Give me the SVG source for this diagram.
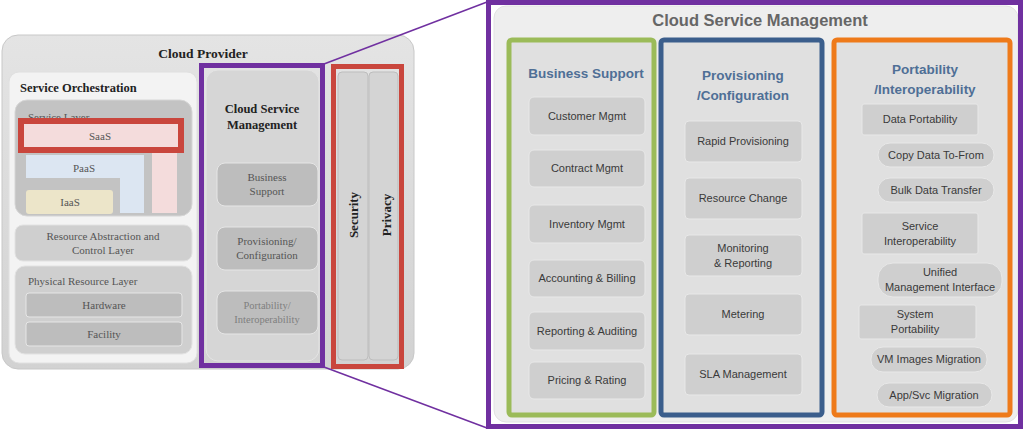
<svg xmlns="http://www.w3.org/2000/svg" width="1025" height="431" viewBox="0 0 1025 431">
<defs>
<style>
.serif{font-family:"Liberation Serif","DejaVu Serif",serif}
.sans{font-family:"Liberation Sans","Open Sans",Arial,sans-serif}
.lt{font-size:11px;fill:#555;text-anchor:middle}
.ltb{font-size:12.5px;font-weight:bold;fill:#222}
.lbox{fill:#bdbdbd;stroke:#e6e6e6;stroke-width:1}
.item{fill:#cfcfcf;stroke:#e8e8e8;stroke-width:1}
.it{font-size:11px;fill:#3a3a3a;text-anchor:middle}
.ct{font-size:13.5px;font-weight:bold;fill:#4f6f96;text-anchor:middle}
.purple{fill:none;stroke:#7030a0;stroke-width:5}
.red{fill:none;stroke:#c9463d;stroke-width:5}
</style>
<linearGradient id="gp" x1="0" y1="0" x2="0" y2="1">
<stop offset="0" stop-color="#e4e4e4"/><stop offset="1" stop-color="#d2d2d2"/>
</linearGradient>
</defs>
<rect width="1025" height="431" fill="#ffffff"/>

<g id="cloud-provider">
<rect x="2" y="35" width="412" height="334" rx="16" fill="url(#gp)" stroke="#c8c8c8"/>
<text class="serif" x="203" y="58" font-size="13.5" font-weight="bold" fill="#222" text-anchor="middle">Cloud Provider</text>
</g>

<g id="service-orchestration">
<rect x="9" y="72" width="188" height="291" rx="10" fill="#f3f3f3" stroke="#e0e0e0"/>
<text class="serif ltb" x="20" y="92">Service Orchestration</text>
</g>

<g id="service-layer">
<rect x="15" y="100" width="177" height="116" rx="12" fill="#c3c3c3" stroke="#d6d6d6"/>
<text class="serif" x="28" y="121" font-size="11" fill="#555">Service Layer</text>
<rect x="152" y="153" width="25" height="60" fill="#f4dcdc"/>
<path d="M26,155 H144 V213 H120 V178 H26 Z" fill="#dce6f2"/>
<text class="serif lt" x="84" y="172">PaaS</text>
<rect x="26" y="190" width="87" height="24" rx="3" fill="#ece5c9"/>
<text class="serif lt" x="70" y="206">IaaS</text>
</g>

<g id="saas">
<rect x="21" y="121" width="160" height="29" style="fill:#f4dcdc;stroke:#c9463d;stroke-width:6"/>
<text class="serif lt" x="100" y="140">SaaS</text>
</g>

<g id="resource-abstraction">
<rect x="15" y="225" width="177" height="36" rx="8" fill="#cfcfcf" stroke="#e2e2e2"/>
<text class="serif lt" x="103" y="240">Resource Abstraction and</text>
<text class="serif lt" x="103" y="254">Control Layer</text>
</g>

<g id="physical-resource">
<rect x="15" y="266" width="177" height="88" rx="10" fill="#cfcfcf" stroke="#e2e2e2"/>
<text class="serif" x="28" y="285" font-size="11" fill="#555">Physical Resource Layer</text>
<rect x="26" y="293" width="156" height="24" rx="3" class="lbox"/>
<text class="serif lt" x="104" y="309">Hardware</text>
<rect x="26" y="322" width="156" height="24" rx="3" class="lbox"/>
<text class="serif lt" x="104" y="338">Facility</text>
</g>

<g id="csm-left">
<rect x="206" y="70" width="113" height="291" rx="12" fill="#d6d6d6" stroke="#e4e4e4"/>
<rect x="201.5" y="65.5" width="121" height="300" class="purple"/>
<text class="serif ltb" x="262" y="113" text-anchor="middle">Cloud Service</text>
<text class="serif ltb" x="262" y="129" text-anchor="middle">Management</text>
<rect x="217" y="163" width="101" height="43" rx="8" class="lbox"/>
<text class="serif lt" x="267" y="181" fill="#7f7f7f">Business</text>
<text class="serif lt" x="267" y="195" fill="#7f7f7f">Support</text>
<rect x="217" y="227" width="101" height="43" rx="8" class="lbox"/>
<text class="serif lt" x="267" y="245" fill="#7f7f7f">Provisioning/</text>
<text class="serif lt" x="267" y="259" fill="#7f7f7f">Configuration</text>
<rect x="217" y="291" width="101" height="43" rx="8" class="lbox"/>
<text class="serif" x="267" y="309" font-size="10.5" fill="#7f7f7f" text-anchor="middle">Portability/</text>
<text class="serif" x="267" y="323" font-size="10.5" fill="#7f7f7f" text-anchor="middle">Interoperability</text>
</g>

<g id="security-privacy">
<rect x="338" y="72" width="30" height="288" rx="4" fill="#d4d4d4" stroke="#bdbdbd"/>
<rect x="369" y="72" width="29" height="288" rx="4" fill="#d4d4d4" stroke="#bdbdbd"/>
<rect x="333.5" y="66.5" width="68" height="300" class="red"/>
<text class="serif" transform="translate(358,215) rotate(-90)" font-size="13" font-weight="bold" fill="#222" text-anchor="middle">Security</text>
<text class="serif" transform="translate(391,215) rotate(-90)" font-size="13" font-weight="bold" fill="#222" text-anchor="middle">Privacy</text>
</g>

<g id="connectors">
<line x1="324" y1="64" x2="487" y2="2" stroke="#7030a0" stroke-width="1.5"/>
<line x1="324" y1="367" x2="487" y2="428" stroke="#7030a0" stroke-width="1.5"/>
</g>

<g id="csm-right">
<rect x="488.5" y="2.5" width="532" height="424" fill="#ffffff"/>
<rect x="494" y="6" width="524" height="416" rx="12" fill="#eeeeee" stroke="#e2e2e2"/>
<rect x="488.5" y="2.5" width="532" height="424" class="purple"/>
<text class="sans" x="760" y="26" font-size="16.5" font-weight="bold" fill="#666" text-anchor="middle">Cloud Service Management</text>
</g>

<g id="business-support">
<rect x="509" y="40" width="145" height="375" rx="3" fill="#e0e0e0" stroke="#9bbb59" stroke-width="5"/>
<text class="sans ct" x="586" y="78">Business Support</text>
<rect x="529" y="97" width="116" height="38" rx="5" class="item"/>
<text class="sans it" x="587" y="120">Customer Mgmt</text>
<rect x="529" y="150" width="116" height="37" rx="5" class="item"/>
<text class="sans it" x="587" y="172">Contract Mgmt</text>
<rect x="529" y="205" width="116" height="38" rx="5" class="item"/>
<text class="sans it" x="587" y="228">Inventory Mgmt</text>
<rect x="529" y="260" width="116" height="37" rx="5" class="item"/>
<text class="sans it" x="587" y="282">Accounting &amp; Billing</text>
<rect x="529" y="312" width="116" height="38" rx="5" class="item"/>
<text class="sans it" x="587" y="335">Reporting &amp; Auditing</text>
<rect x="529" y="362" width="116" height="37" rx="5" class="item"/>
<text class="sans it" x="587" y="384">Pricing &amp; Rating</text>
</g>

<g id="provisioning">
<rect x="661" y="40" width="161" height="375" rx="3" fill="#e0e0e0" stroke="#3b5e8c" stroke-width="5"/>
<text class="sans ct" x="743" y="80">Provisioning</text>
<text class="sans ct" x="743" y="100">/Configuration</text>
<rect x="685" y="121" width="117" height="41" rx="4" class="item"/>
<text class="sans it" x="743" y="145">Rapid Provisioning</text>
<rect x="685" y="178" width="117" height="41" rx="4" class="item"/>
<text class="sans it" x="743" y="202">Resource Change</text>
<rect x="685" y="235" width="117" height="41" rx="4" class="item"/>
<text class="sans it" x="743" y="252">Monitoring</text>
<text class="sans it" x="743" y="267">&amp; Reporting</text>
<rect x="685" y="294" width="117" height="41" rx="4" class="item"/>
<text class="sans it" x="743" y="318">Metering</text>
<rect x="685" y="354" width="117" height="41" rx="4" class="item"/>
<text class="sans it" x="743" y="378">SLA Management</text>
</g>

<g id="portability">
<rect x="834" y="40" width="176" height="375" rx="3" fill="#e0e0e0" stroke="#ee7a1a" stroke-width="5"/>
<text class="sans ct" x="925" y="74">Portability</text>
<text class="sans ct" x="925" y="94">/Interoperability</text>
<rect x="862" y="104" width="116" height="31" rx="2" class="item"/>
<text class="sans it" x="920" y="123">Data Portability</text>
<rect x="878" y="143" width="116" height="24" rx="12" class="item"/>
<text class="sans it" x="936" y="159">Copy Data To-From</text>
<rect x="878" y="178" width="116" height="24" rx="12" class="item"/>
<text class="sans it" x="936" y="194">Bulk Data Transfer</text>
<rect x="862" y="213" width="116" height="41" rx="2" class="item"/>
<text class="sans it" x="920" y="230">Service</text>
<text class="sans it" x="920" y="245">Interoperability</text>
<rect x="878" y="263" width="124" height="34" rx="15" class="item"/>
<text class="sans it" x="940" y="276">Unified</text>
<text class="sans it" x="940" y="291">Management Interface</text>
<rect x="859" y="305" width="117" height="34" rx="2" class="item"/>
<text class="sans it" x="915" y="318">System</text>
<text class="sans it" x="915" y="333">Portability</text>
<rect x="871" y="347" width="116" height="25" rx="12" class="item"/>
<text class="sans it" x="929" y="363">VM Images Migration</text>
<rect x="877" y="383" width="115" height="24" rx="12" class="item"/>
<text class="sans it" x="934" y="399">App/Svc Migration</text>
</g>
</svg>
